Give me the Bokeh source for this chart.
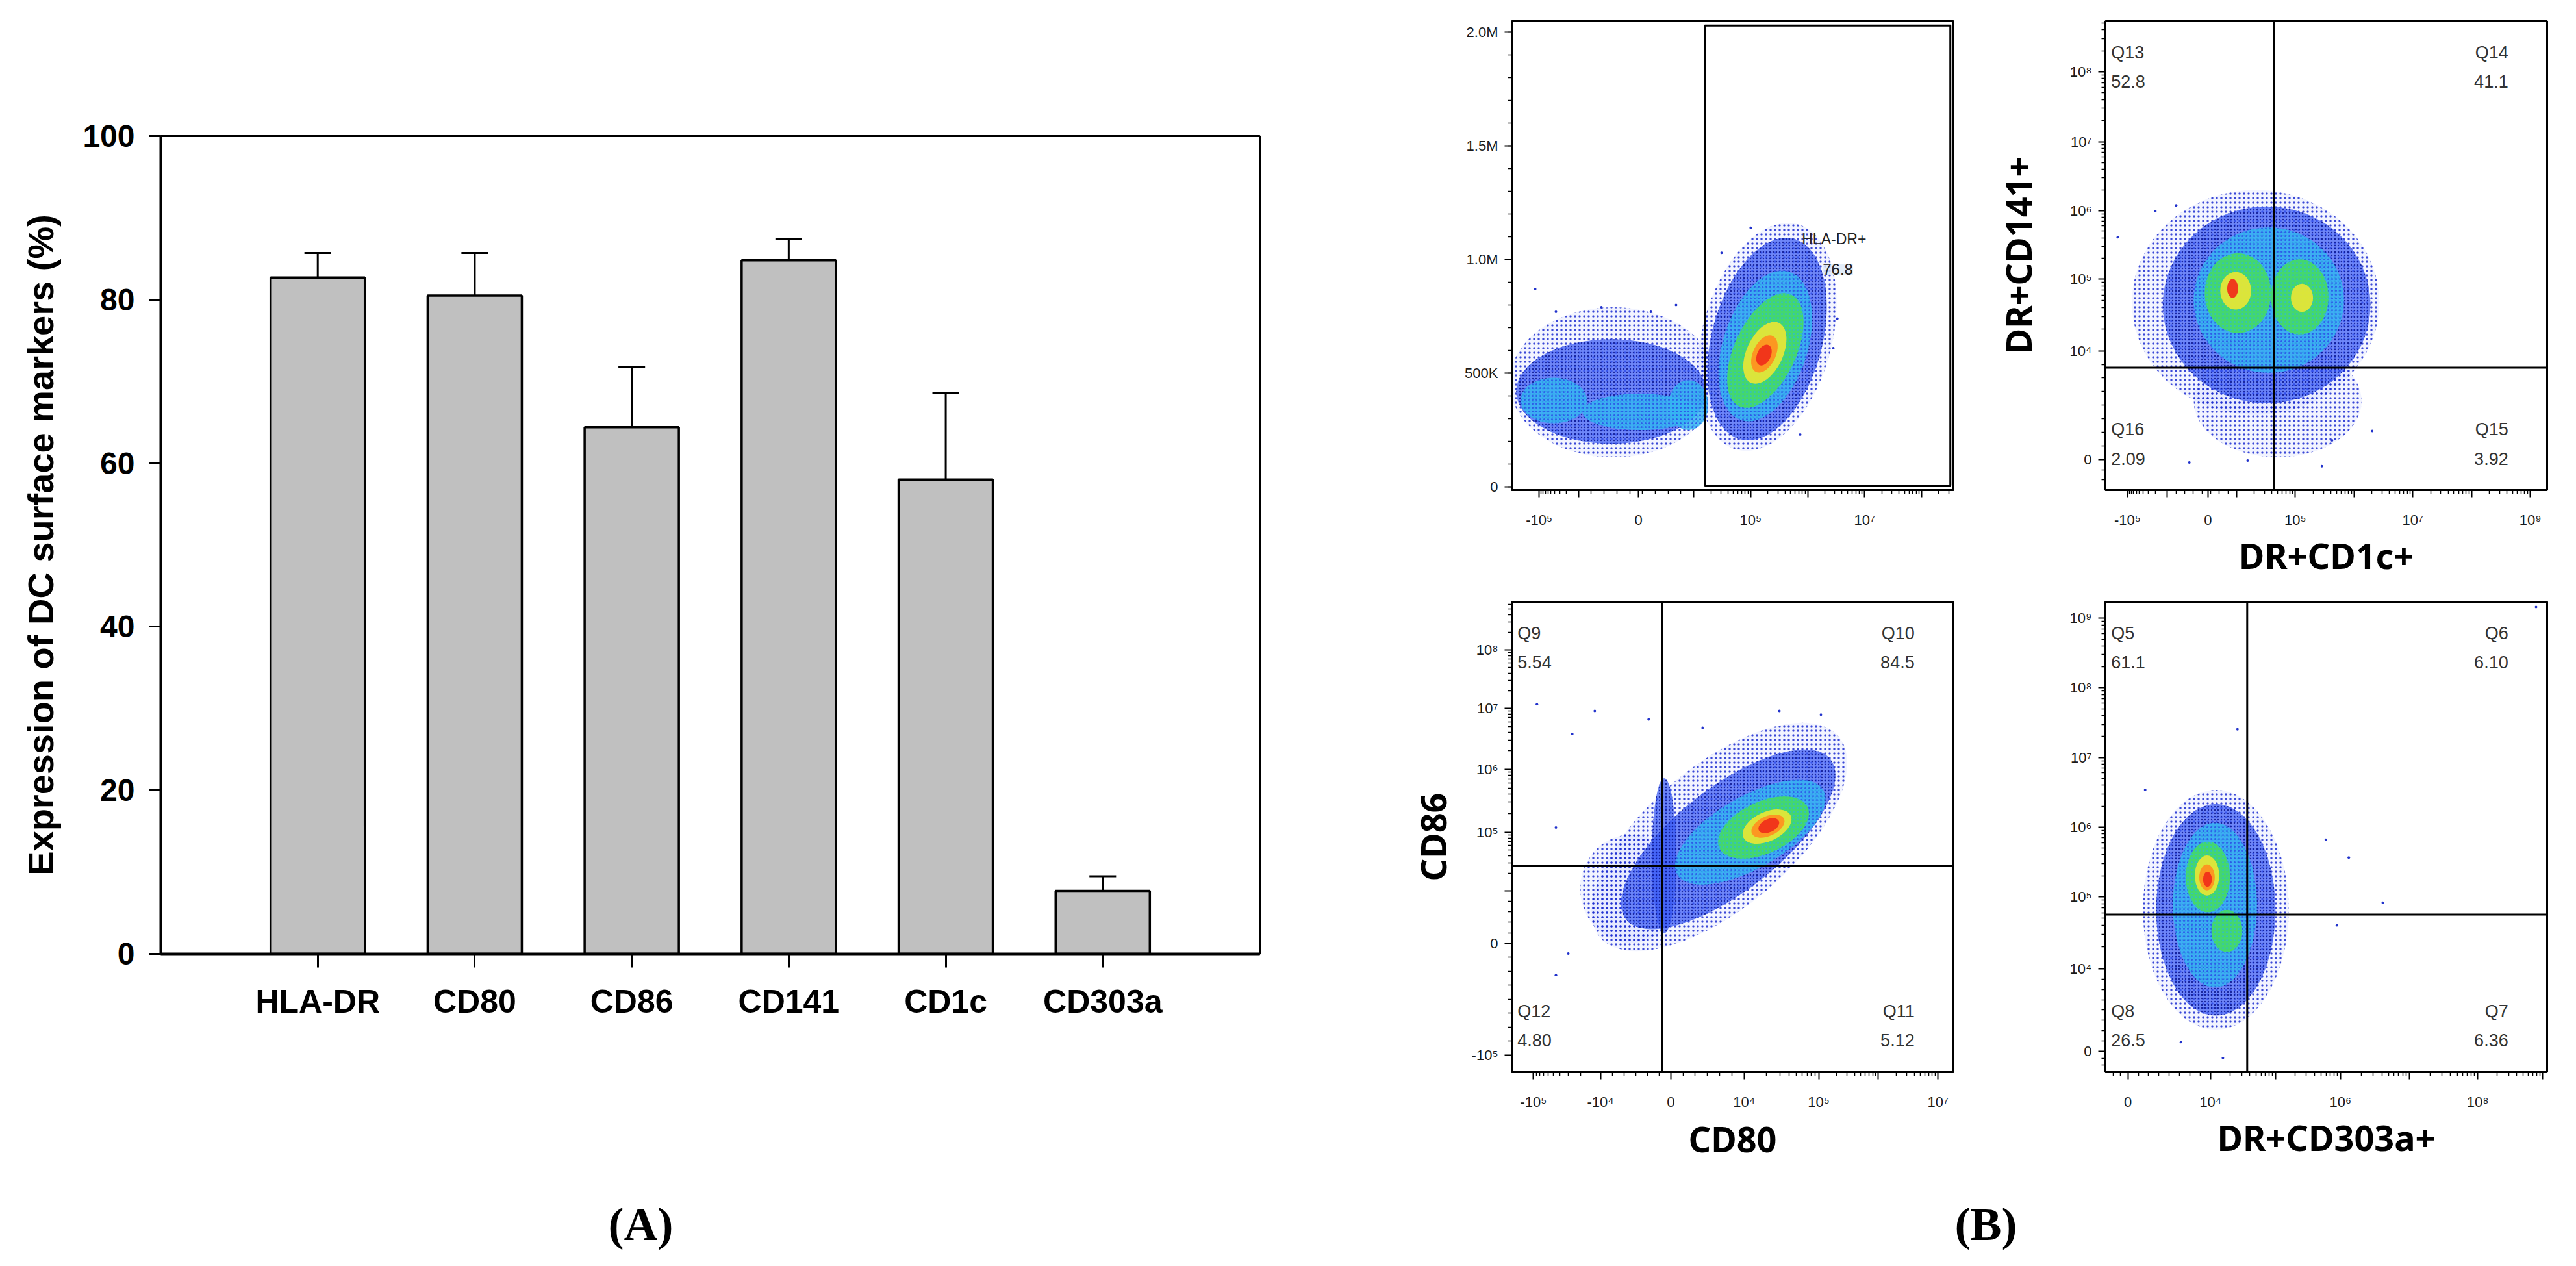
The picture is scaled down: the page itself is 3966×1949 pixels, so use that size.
import math
from bokeh.plotting import figure
from bokeh.models import Range1d, FixedTicker, ColumnDataSource, Span
from bokeh.layouts import row, column
from bokeh.embed import file_html
from bokeh.resources import INLINE
from bokeh.core.properties import value

# ---------------- Panel A data ----------------
markers = ["HLA-DR", "CD80", "CD86", "CD141", "CD1c", "CD303a"]
expression_mean = [82.7, 80.5, 64.4, 84.8, 58.0, 7.7]
expression_sd = [3.0, 5.2, 7.4, 2.6, 10.6, 1.8]
y_ticks_a = [0, 20, 40, 60, 80, 100]

# panel captions
panel_labels = ["(A)", "(B)"]
panel_label_x = [986, 3057]

# ---------------- Panel B data (channel units) ----------------
# density layers: 0 sparse halo, 1 blue, 2 cyan, 3 green, 4 yellow, 5 orange, 6 red
level_fill = ["#8090ff", "#3a5cf5", "#35b5f2", "#45dc60", "#e8e635", "#ff9020", "#f0301a"]
level_alpha = [0.10, 0.72, 0.85, 0.9, 0.92, 0.92, 0.95]
level_hatch = ["#1a2ad0", "#0c1890", "#2a50e8", "#2fbfc8", None, None, None]
level_hscale = [7, 5, 6, 6, 6, 6, 6]

# top-left: FSC (K) vs HLA-DR
tl_cx = [230, 225, 95, 290, 400, 578, 578, 574, 574, 573, 572, 571]
tl_cy = [460, 420, 380, 330, 360, 660, 650, 620, 600, 590, 585, 580]
tl_w = [470, 430, 150, 260, 90, 529, 470, 353, 279, 150, 90, 50]
tl_h = [660, 460, 200, 160, 220, 571, 486, 371, 271, 160, 100, 60]
tl_ang = [0, 0, 0, 0, 0, 75, 75, 72, 65, 65, 65, 65]
tl_lvl = [0, 1, 2, 2, 2, 0, 1, 2, 3, 4, 5, 6]
tl_px = [53, 100, 203, 315, 372, 475, 541, 737, 728, 653]
tl_py = [870, 770, 790, 770, 800, 1030, 1140, 740, 610, 230]

# top-right: DR+CD1c+ vs DR+CD141+
tr_cx = [340, 390, 365, 370, 300, 440, 295, 445, 288]
tr_cy = [400, 190, 395, 405, 420, 412, 425, 410, 430]
tr_w = [560, 380, 470, 340, 150, 130, 70, 50, 25]
tr_h = [480, 240, 420, 310, 170, 160, 80, 60, 40]
tr_ang = [0, 0, 0, 0, 0, 0, 0, 0, 0]
tr_lvl = [0, 0, 1, 2, 3, 3, 4, 4, 6]
tr_px = [113, 160, 28, 322, 490, 513, 190, 604]
tr_py = [595, 607, 539, 63, 51, 106, 59, 126]

# bottom-left: CD80 vs CD86
bl_cx = [470, 270, 490, 345, 540, 570, 578, 580, 582]
bl_cy = [500, 390, 495, 460, 510, 520, 522, 523, 524]
bl_w = [706, 230, 588, 55, 382, 220, 118, 80, 50]
bl_h = [303, 230, 221, 330, 152, 110, 62, 42, 28]
bl_ang = [40, 0, 38, 0, 30, 25, 25, 25, 25]
bl_lvl = [0, 0, 1, 1, 2, 3, 4, 5, 6]
bl_px = [57, 188, 310, 137, 100, 128, 100, 606, 700, 432]
bl_py = [782, 768, 750, 719, 520, 252, 206, 768, 760, 732]

# bottom-right: DR+CD303a+
br_cx = [250, 250, 248, 232, 275, 230, 230, 231]
br_cy = [345, 345, 355, 415, 300, 418, 414, 410]
br_w = [330, 270, 190, 100, 70, 55, 35, 20]
br_h = [510, 450, 350, 150, 90, 85, 55, 32]
br_ang = [0, 0, 0, 0, 0, 0, 0, 0]
br_lvl = [0, 1, 2, 3, 3, 4, 5, 6]
br_px = [299, 90, 499, 551, 628, 524, 171, 266, 975]
br_py = [729, 600, 494, 456, 360, 312, 64, 30, 989]

# quadrant statistics (UL, UR, LR, LL)
tr_quads = ["Q13", "Q14", "Q15", "Q16"]
tr_pcts = ["52.8", "41.1", "3.92", "2.09"]
bl_quads = ["Q9", "Q10", "Q11", "Q12"]
bl_pcts = ["5.54", "84.5", "5.12", "4.80"]
br_quads = ["Q5", "Q6", "Q7", "Q8"]
br_pcts = ["61.1", "6.10", "6.36", "26.5"]

# axis tick positions (channel) -> labels
tl_xt = {62: "-10⁵", 151: "", 287: "0", 412: "", 541: "10⁵", 670: "", 799: "10⁷", 928: ""}
tl_yt = {0: "0", 500: "500K", 1000: "1.0M", 1500: "1.5M", 2000: "2.0M"}
tr_xt = {50: "-10⁵", 140: "", 232: "0", 297: "", 430: "10⁵", 563: "", 696: "10⁷", 829: "", 962: "10⁹"}
tr_yt = {65: "0", 297: "10⁴", 450: "10⁵", 596: "10⁶", 743: "10⁷", 892: "10⁸"}
bl_xt = {49: "-10⁵", 201: "-10⁴", 360: "0", 526: "10⁴", 695: "10⁵", 830: "", 965: "10⁷"}
bl_yt = {36: "-10⁵", 274: "0", 385: "", 510: "10⁵", 644: "10⁶", 774: "10⁷", 898: "10⁸"}
br_xt = {51: "0", 238: "10⁴", 385: "", 532: "10⁶", 688: "", 843: "10⁸", 990: ""}
br_yt = {44: "0", 220: "10⁴", 373: "10⁵", 521: "10⁶", 669: "10⁷", 817: "10⁸", 965: "10⁹"}

# gates
tl_gate = dict(left=437, right=993, bottom=6, top=2030)
tr_gate = (382, 261)
bl_gate = (341, 439)
br_gate = (321, 335)

SANS = "Liberation Sans"


def log_minors(pos):
    out = []
    for a, b in zip(pos[:-1], pos[1:]):
        out += [a + (b - a) * math.log10(k) for k in range(2, 10)]
    return out


def neg_minors(pos):
    out = []
    for a, b in zip(pos[:-1], pos[1:]):
        out += [b - (b - a) * math.log10(k) for k in range(2, 10)]
    return out


def lin_minors(a, b, n):
    return [a + (b - a) * i / n for i in range(1, n)]


# ---------------- Panel A ----------------
xs = list(range(1, len(markers) + 1))
tops = [m + s for m, s in zip(expression_mean, expression_sd)]
src_a = ColumnDataSource(dict(x=xs, mean=expression_mean, top=tops,
                              cl=[x - 0.085 for x in xs], cr=[x + 0.085 for x in xs]))

pa = figure(frame_width=1692, frame_height=1259, x_range=Range1d(0, 7), y_range=Range1d(0, 100),
            output_backend="svg", toolbar_location=None, title=None,
            min_border_left=247, min_border_right=153, min_border_top=209, min_border_bottom=354)
pa.grid.visible = False
pa.outline_line_color = "black"
pa.outline_line_width = 3
pa.vbar(x="x", top="mean", width=0.6, source=src_a, fill_color="#c0c0c0",
        line_color="black", line_width=3.5)
pa.segment(x0="x", y0="mean", x1="x", y1="top", source=src_a, line_color="black", line_width=3)
pa.segment(x0="cl", y0="top", x1="cr", y1="top", source=src_a, line_color="black", line_width=3)

pa.xaxis.ticker = FixedTicker(ticks=xs)
pa.xaxis.major_label_overrides = {x: m for x, m in zip(xs, markers)}
pa.yaxis.ticker = FixedTicker(ticks=y_ticks_a)
for ax in (pa.xaxis[0], pa.yaxis[0]):
    ax.axis_line_width = 4
    ax.major_tick_in = 0
    ax.major_tick_line_width = 3
    ax.minor_tick_line_color = None
    ax.major_label_text_font = SANS
    ax.major_label_text_font_style = "bold"
    ax.major_label_text_color = "black"
pa.xaxis.major_tick_out = 21
pa.xaxis.major_label_standoff = 24
pa.xaxis.major_label_text_font_size = "50px"
pa.yaxis.major_tick_out = 18
pa.yaxis.major_label_standoff = 22
pa.yaxis.major_label_text_font_size = "48px"
pa.yaxis.axis_label = "Expression of DC surface markers (%)"
pa.yaxis.axis_label_text_font = SANS
pa.yaxis.axis_label_text_font_style = "bold"
pa.yaxis.axis_label_text_font_size = "56px"
pa.yaxis.axis_label_text_color = "black"
pa.yaxis.axis_label_standoff = 30


# ---------------- Panel B ----------------
def flow_fig(yr, fh, mbl, mbr, mbt, mbb):
    p = figure(frame_width=680, frame_height=fh, x_range=Range1d(0, 1000), y_range=Range1d(*yr),
               output_backend="svg", toolbar_location=None, title=None,
               min_border_left=mbl, min_border_right=mbr, min_border_top=mbt, min_border_bottom=mbb)
    p.grid.visible = False
    p.outline_line_color = "black"
    p.outline_line_width = 3
    for ax in (p.xaxis[0], p.yaxis[0]):
        ax.axis_line_width = 3
        ax.major_tick_out = 11
        ax.major_tick_in = 0
        ax.minor_tick_out = 6
        ax.minor_tick_in = 0
        ax.major_tick_line_width = 2
        ax.minor_tick_line_width = 1.5
        ax.major_label_text_font = SANS
        ax.major_label_text_font_size = "22px"
        ax.major_label_text_color = "#1a1a1a"
        ax.axis_label_text_font = "Noto Sans"
        ax.axis_label_text_font_style = "bold"
        ax.axis_label_text_font_size = "54px"
        ax.axis_label_text_color = "black"
    p.xaxis.major_label_standoff = 22
    p.yaxis.major_label_standoff = 10
    return p


def set_ticks(ax, ticks, minors, lo, hi):
    ax.ticker = FixedTicker(ticks=list(ticks.keys()),
                            minor_ticks=[m for m in minors if lo <= m <= hi])
    ax.major_label_overrides = dict(ticks)


def draw_cloud(p, cx, cy, w, h, ang, lvl, px, py):
    for L in range(len(level_fill)):
        idx = [i for i in range(len(cx)) if lvl[i] == L]
        if not idx:
            continue
        src = ColumnDataSource(dict(x=[cx[i] for i in idx], y=[cy[i] for i in idx],
                                    w=[w[i] for i in idx], h=[h[i] for i in idx],
                                    a=[ang[i] for i in idx]))
        kw = dict(fill_color=level_fill[L], fill_alpha=level_alpha[L], line_color=None)
        if level_hatch[L] is not None:
            kw.update(hatch_pattern=".", hatch_color=level_hatch[L], hatch_alpha=0.85,
                      hatch_scale=level_hscale[L], hatch_weight=1.4)
        p.ellipse(x="x", y="y", width="w", height="h", angle="a", angle_units="deg",
                  source=src, **kw)
    p.scatter(x=px, y=py, size=4, color="#2233cc", line_color=None)


def quad_labels(p, names, pcts):
    left_x, right_x = 13, 912
    p.text(x=[left_x, left_x, left_x, left_x], y=[933, 871, 129, 67],
           text=[names[0], pcts[0], names[3], pcts[3]], text_align="left", text_baseline="middle",
           text_font=value(SANS), text_font_size="27px", text_color="#333333")
    p.text(x=[right_x, right_x, right_x, right_x], y=[933, 871, 129, 67],
           text=[names[1], pcts[1], names[2], pcts[2]], text_align="right", text_baseline="middle",
           text_font=value(SANS), text_font_size="27px", text_color="#333333")


# top-left
tl = flow_fig((-14, 2049), 722, 235, 10, 32, 150)
draw_cloud(tl, tl_cx, tl_cy, tl_w, tl_h, tl_ang, tl_lvl, tl_px, tl_py)
tl.quad(left=tl_gate["left"], right=tl_gate["right"], bottom=tl_gate["bottom"], top=tl_gate["top"],
        fill_alpha=0, line_color="black", line_width=3)
tl.text(x=[657], y=[1089], text=["HLA-DR+"], text_align="left", text_baseline="middle",
        text_font=value(SANS), text_font_size="23px", text_color="#222222")
tl.text(x=[704], y=[957], text=["76.8"], text_align="left", text_baseline="middle",
        text_font=value(SANS), text_font_size="24px", text_color="#222222",
        background_fill_color="#dce8f6", background_fill_alpha=0.8)
set_ticks(tl.xaxis[0], tl_xt,
          neg_minors([62, 151]) + lin_minors(151, 412, 9) + log_minors([412, 541, 670, 799, 928, 1057]),
          0, 1000)
set_ticks(tl.yaxis[0], tl_yt, list(range(0, 2050, 100)), -14, 2049)

# top-right
tr = flow_fig((0, 1000), 722, 224, 10, 32, 150)
draw_cloud(tr, tr_cx, tr_cy, tr_w, tr_h, tr_ang, tr_lvl, tr_px, tr_py)
tr.add_layout(Span(location=tr_gate[0], dimension="height", line_color="black", line_width=3))
tr.add_layout(Span(location=tr_gate[1], dimension="width", line_color="black", line_width=3))
quad_labels(tr, tr_quads, tr_pcts)
set_ticks(tr.xaxis[0], tr_xt,
          neg_minors([50, 140]) + lin_minors(140, 297, 8) + log_minors([297, 430, 563, 696, 829, 962]),
          0, 1000)
set_ticks(tr.yaxis[0], tr_yt, lin_minors(0, 65, 3) + lin_minors(65, 297, 8) +
          log_minors([297, 450, 596, 743, 892, 1041]), 0, 1000)
tr.xaxis.axis_label = "DR+CD1c+"
tr.xaxis.axis_label_standoff = 2
tr.yaxis.axis_label = "DR+CD141+"
tr.yaxis.axis_label_standoff = 40

# bottom-left
bl = flow_fig((0, 1000), 724, 235, 10, 22, 172)
draw_cloud(bl, bl_cx, bl_cy, bl_w, bl_h, bl_ang, bl_lvl, bl_px, bl_py)
bl.add_layout(Span(location=bl_gate[0], dimension="height", line_color="black", line_width=3))
bl.add_layout(Span(location=bl_gate[1], dimension="width", line_color="black", line_width=3))
quad_labels(bl, bl_quads, bl_pcts)
set_ticks(bl.xaxis[0], bl_xt,
          neg_minors([49, 201]) + lin_minors(201, 360, 6) + lin_minors(360, 526, 6) +
          log_minors([526, 695, 830, 965, 1100]), 0, 1000)
set_ticks(bl.yaxis[0], bl_yt,
          lin_minors(36, 274, 8) + lin_minors(274, 385, 5) + log_minors([385, 510, 644, 774, 898, 1022]),
          0, 1000)
bl.xaxis.axis_label = "CD80"
bl.xaxis.axis_label_standoff = 4
bl.yaxis.axis_label = "CD86"
bl.yaxis.axis_label_standoff = 20

# bottom-right
br = flow_fig((0, 1000), 724, 224, 10, 22, 172)
draw_cloud(br, br_cx, br_cy, br_w, br_h, br_ang, br_lvl, br_px, br_py)
br.add_layout(Span(location=br_gate[0], dimension="height", line_color="black", line_width=3))
br.add_layout(Span(location=br_gate[1], dimension="width", line_color="black", line_width=3))
quad_labels(br, br_quads, br_pcts)
set_ticks(br.xaxis[0], br_xt, lin_minors(0, 51, 3) + lin_minors(51, 238, 8) +
          log_minors([238, 385, 532, 688, 843, 990]), 0, 1000)
set_ticks(br.yaxis[0], br_yt, lin_minors(0, 44, 3) + lin_minors(44, 220, 8) +
          log_minors([220, 373, 521, 669, 817, 965]), 0, 1000)
br.xaxis.axis_label = "DR+CD303a+"
br.xaxis.axis_label_standoff = 2

# caption strip with (A) and (B)
cap = figure(width=3931, height=111, x_range=Range1d(0, 3931), y_range=Range1d(0, 111),
             output_backend="svg", toolbar_location=None, title=None,
             x_axis_location=None, y_axis_location=None, min_border=0)
cap.grid.visible = False
cap.outline_line_color = None
cap.text(x=panel_label_x, y=[49, 49], text=panel_labels, text_align="center", text_baseline="middle",
         text_font=value("Liberation Serif"), text_font_style="bold", text_font_size="72px",
         text_color="black")

layout = column(row(pa, column(row(tl, tr, spacing=0), row(bl, br, spacing=0), spacing=0), spacing=0),
                cap, spacing=0)

with open("out.html", "w") as f:
    f.write(file_html(layout, INLINE, title="DC surface markers"))
